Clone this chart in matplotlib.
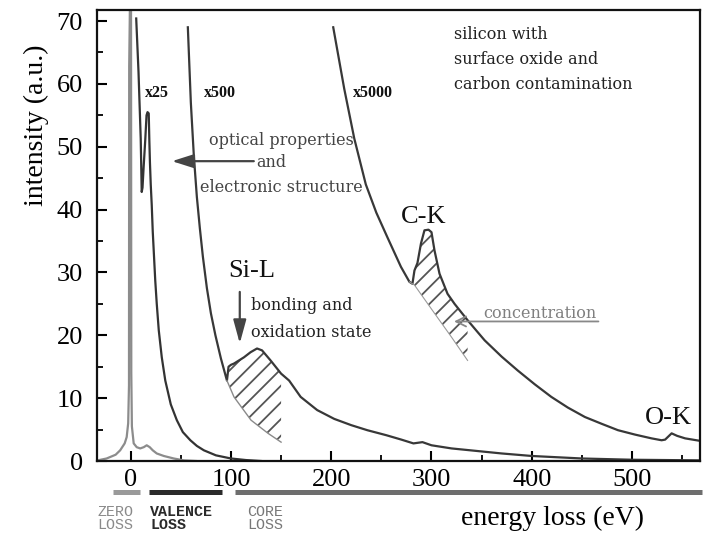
import numpy as np
import matplotlib
matplotlib.use("Agg")
import matplotlib.pyplot as plt
from matplotlib.patches import ArrowStyle

plt.rcParams['hatch.linewidth'] = 1.3

# ---------------- data ----------------
# zero-loss peak (gray)
zl_E = [-33, -24, -15, -10.5, -6, -4, -2.5, -1.7, -1.5, -0.2, 0.3, 0.6, 1.2, 3, 6, 9.5,
        13, 16, 19, 22, 26, 33, 43, 53, 65]
zl_I = [0.1, 0.4, 1.0, 1.7, 2.8, 3.8, 6.0, 12.0, 62.7, 80, 80, 14.0, 5.5, 2.8, 2.2, 2.0,
        2.2, 2.5, 2.2, 1.7, 1.2, 0.8, 0.4, 0.1, 0.0]

# x25 spectrum (valence loss)
v25_E = [5.5, 7.8, 10, 11, 11.8, 13, 14.5, 15.8, 16.8, 18, 18.6, 19.2, 20, 21, 22, 24.5,
         26, 28, 31, 34.5, 40, 46, 52, 59.5, 66, 73, 85, 100, 115, 130]
v25_I = [70.4, 61.9, 51.3, 42.8, 43.5, 47, 51, 55.0, 55.5, 55.3, 51, 47.5, 44, 40.7, 36.5, 28.7,
         25.0, 20.8, 16.5, 12.8, 9.0, 6.5, 4.6, 3.3, 2.4, 1.7, 0.9, 0.4, 0.15, 0.0]

# x500 spectrum (Si-L edge)
c500_E = [57, 60, 63, 66, 69, 72, 76, 80, 84.5, 90, 96, 97.6, 100, 103, 108, 113, 119.5, 126,
          131, 139.5, 150, 158, 169.5, 186, 203, 220, 236, 255, 270, 282, 291, 300, 320,
          345, 370, 400, 450, 500, 568]
c500_I = [69.0, 57.0, 48.5, 42.0, 37.0, 32.5, 27.5, 23.5, 20.0, 16.3, 12.8, 15.0, 15.3, 15.5,
          16.0, 16.5, 17.3, 17.9, 17.6, 16.0, 13.9, 12.8, 10.2, 8.1, 6.7, 5.7, 4.9, 4.1, 3.4,
          2.8, 3.0, 2.5, 2.0, 1.6, 1.2, 0.8, 0.4, 0.2, 0.1]

# x5000 spectrum (C-K and O-K edges)
c5000_E = [202, 213, 223, 234.5, 245, 256, 269.5, 278, 281, 283, 286, 289.5, 293, 297, 300,
           303, 308, 316, 323, 336, 345, 353, 370, 386, 403, 419.5, 436, 453, 470, 486,
           503, 519.5, 529.5, 533, 539.5, 545, 553, 568]
c5000_I = [69.0, 59.2, 51.3, 44.0, 39.5, 35.6, 30.9, 28.5, 28.2, 30.3, 31.5, 34.6, 36.7, 36.8,
           36.4, 33.5, 29.8, 26.6, 25.0, 22.4, 20.7, 19.2, 16.6, 14.4, 12.2, 10.2, 8.5, 7.0,
           5.9, 4.9, 4.2, 3.6, 3.3, 3.4, 4.4, 4.0, 3.6, 3.2]

# extrapolated backgrounds under the edges
bg_si_E = [96, 103, 120, 137, 150]
bg_si_I = [12.8, 10.2, 6.5, 4.4, 3.0]
bg_c_E = [278, 283, 303, 320, 336]
bg_c_I = [28.5, 28.0, 23.5, 19.7, 16.0]

x_major = [0, 100, 200, 300, 400, 500]
x_minor = [50, 150, 250, 350, 450, 550]
y_major = [0, 10, 20, 30, 40, 50, 60, 70]
y_minor = [5, 15, 25, 35, 45, 55, 65]

# ---------------- figure ----------------
fig = plt.figure(figsize=(7.03, 5.38), dpi=100)
ax = fig.add_axes([97 / 703, 77 / 538, 603 / 703, 451 / 538])
ax.set_xlim(-33.6, 567.8)
ax.set_ylim(0, 71.75)

serif = 'Liberation Serif'
anno = 'DejaVu Serif'

ax.plot(zl_E, zl_I, color='#8c8c8c', lw=1.6)
ax.plot(v25_E, v25_I, color='#333333', lw=1.6)
ax.plot(c500_E, c500_I, color='#383838', lw=1.6)
ax.plot(c5000_E, c5000_I, color='#383838', lw=1.6)

# hatched edge areas
E500 = np.array(c500_E)
I500 = np.array(c500_I)
m = (E500 >= 96) & (E500 <= 150)
ax.fill_between(E500[m], np.interp(E500[m], bg_si_E, bg_si_I), I500[m],
                facecolor='none', edgecolor='#555555', hatch='//', linewidth=0)
ax.plot(bg_si_E, bg_si_I, color='#8a8a8a', lw=1.0)

E5k = np.array(c5000_E)
I5k = np.array(c5000_I)
m2 = (E5k >= 278) & (E5k <= 336)
ax.fill_between(E5k[m2], np.interp(E5k[m2], bg_c_E, bg_c_I), I5k[m2],
                facecolor='none', edgecolor='#555555', hatch='//', linewidth=0)
ax.plot(bg_c_E, bg_c_I, color='#9a9a9a', lw=0.8)

# axes styling
for s in ax.spines.values():
    s.set_linewidth(1.6)
    s.set_color('#111111')
ax.set_xticks(x_major)
ax.set_xticks(x_minor, minor=True)
ax.set_yticks(y_major)
ax.set_yticks(y_minor, minor=True)
ax.tick_params(axis='both', which='major', direction='in', length=7, width=1.5,
               labelsize=19, top=False, right=False)
ax.tick_params(axis='both', which='minor', direction='in', length=4, width=1.3,
               top=False, right=False)
ax.tick_params(axis='y', which='major', pad=10)
ax.tick_params(axis='x', which='major', pad=6)
for lab in ax.get_xticklabels() + ax.get_yticklabels():
    lab.set_fontfamily(serif)

ax.set_ylabel('intensity (a.u.)', fontfamily=serif, fontsize=20)
ax.yaxis.set_label_coords(-0.080, 0.745)
ax.set_xlabel('energy loss (eV)', fontfamily=serif, fontsize=20)
ax.xaxis.set_label_coords(0.756, -0.10)

# magnification labels
for lbl, xx in [('x25', 14.5), ('x500', 72.8), ('x5000', 221.2)]:
    ax.text(xx, 58.6, lbl, fontfamily=serif, fontweight='bold', fontsize=11.5,
            ha='left', va='center', color='#111111')

# annotations
ax.text(150, 50.2, 'optical properties', fontfamily=anno, fontsize=11.5, color='#444444',
        ha='center', va='baseline')
ax.text(140, 46.8, 'and', fontfamily=anno, fontsize=11.5, color='#444444',
        ha='center', va='baseline')
ax.text(150, 42.8, 'electronic structure', fontfamily=anno, fontsize=11.5, color='#444444',
        ha='center', va='baseline')
ax.annotate('', xy=(41.2, 47.7), xytext=(122.8, 47.7),
            arrowprops=dict(arrowstyle=ArrowStyle('-|>', head_length=1.1, head_width=0.35),
                            color='#444444', lw=1.6, mutation_scale=12,
                            shrinkA=0, shrinkB=0))

ax.text(97.8, 29.3, 'Si-L', fontfamily=serif, fontsize=19, ha='left', va='baseline',
        color='#111111')
ax.annotate('', xy=(108.8, 18.7), xytext=(108.8, 26.9),
            arrowprops=dict(arrowstyle=ArrowStyle('-|>', head_length=1.1, head_width=0.3),
                            color='#444444', lw=1.6, mutation_scale=13,
                            shrinkA=0, shrinkB=0))
ax.text(119.5, 24.0, 'bonding and', fontfamily=anno, fontsize=11.5, color='#222222',
        ha='left', va='baseline')
ax.text(119.5, 19.7, 'oxidation state', fontfamily=anno, fontsize=11.5, color='#222222',
        ha='left', va='baseline')

ax.text(269.5, 37.8, 'C-K', fontfamily=serif, fontsize=19, ha='left', va='baseline',
        color='#111111')
ax.text(351.2, 22.8, 'concentration', fontfamily=anno, fontsize=11.5, color='#808080',
        ha='left', va='baseline')
ax.annotate('', xy=(322.5, 22.2), xytext=(466.5, 22.2),
            arrowprops=dict(arrowstyle=ArrowStyle('->', head_length=0.6, head_width=0.3),
                            color='#888888', lw=1.3, mutation_scale=12,
                            shrinkA=0, shrinkB=0))

ax.text(512.5, 5.95, 'O-K', fontfamily=serif, fontsize=19, ha='left', va='baseline',
        color='#111111')

for txt, yy in [('silicon with', 67.2), ('surface oxide and', 63.2),
                ('carbon contamination', 59.2)]:
    ax.text(322.8, yy, txt, fontfamily=anno, fontsize=11.5, color='#222222',
            ha='left', va='baseline')

# energy-range bars under the axis
tr = ax.get_xaxis_transform()
bars = [((-17.8, 9.5), '#9a9a9a'), ((17.8, 91.2), '#2b2b2b'), ((104.5, 570), '#6e6e6e')]
for (x0, x1), col in bars:
    ax.plot([x0, x1], [-0.0698, -0.0698], transform=tr, color=col, lw=3.6,
            solid_capstyle='butt', clip_on=False, zorder=1)

mono = 'Liberation Mono'
for (xx, l1, l2, col, wt) in [(-33.2, 'ZERO', 'LOSS', '#8a8a8a', 'normal'),
                              (19.5, 'VALENCE', 'LOSS', '#2a2a2a', 'bold'),
                              (116.0, 'CORE', 'LOSS', '#777777', 'normal')]:
    ax.text(xx, -0.122, l1, transform=tr, fontfamily=mono, fontsize=10.8, color=col,
            fontweight=wt, ha='left', va='baseline')
    ax.text(xx, -0.1514, l2, transform=tr, fontfamily=mono, fontsize=10.8, color=col,
            fontweight=wt, ha='left', va='baseline')

fig.savefig('out.png', dpi=100)
